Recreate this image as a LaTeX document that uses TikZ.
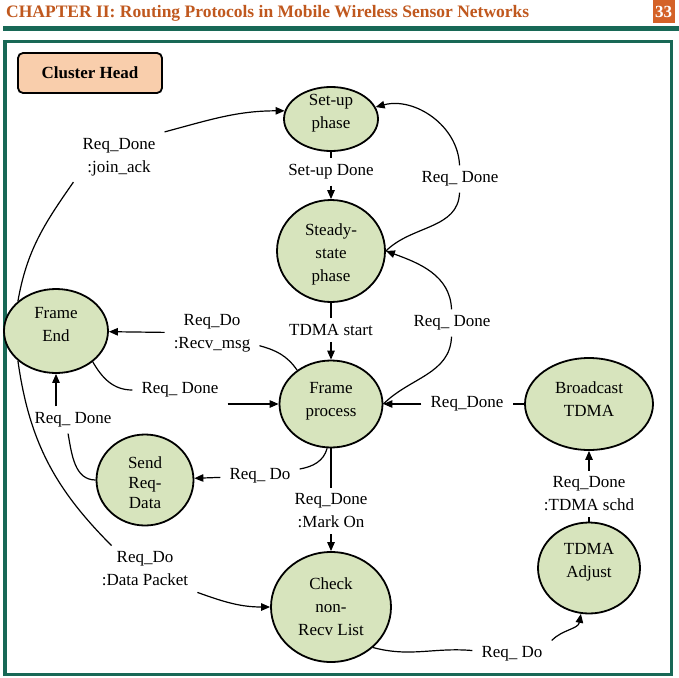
\documentclass[tikz,border=0pt]{standalone}
\usepackage{fontspec}
\setmainfont{Liberation Serif}
\usetikzlibrary{shapes.geometric,arrows.meta}
\definecolor{hdrc}{RGB}{192,88,30}
\definecolor{numbox}{RGB}{212,98,40}
\definecolor{frm}{RGB}{24,104,86}
\definecolor{nfill}{RGB}{215,228,189}
\definecolor{chfill}{RGB}{249,206,172}
\begin{document}
\begin{tikzpicture}[x=1pt,y=1pt,
  state/.style={ellipse,draw,line width=1.8pt,fill=nfill,inner sep=0pt},
  stxt/.style={align=center,font=\fontsize{17}{23}\selectfont,inner sep=0pt},
  lbl/.style={align=center,font=\fontsize{17}{23}\selectfont,inner xsep=9pt,inner ysep=6pt},
  conn/.style={line width=1.2pt},
  arr/.style={conn,-{Triangle[length=9pt,width=7.5pt]}}]

\useasboundingbox (0,0) rectangle (679,-677);
\fill[white] (0,0) rectangle (679,-677);

% header
\node[anchor=base west,inner sep=0pt,text=hdrc,font=\fontsize{17.5}{20}\selectfont\bfseries] (hdr) at (6,-18) {CHAPTER II: Routing Protocols in Mobile Wireless Sensor Networks};
\node[fill=numbox,text=white,font=\fontsize{17}{20}\selectfont\bfseries,minimum width=22pt,minimum height=23pt,inner sep=0pt] (pg) at (663.5,-11.5) {33};
\draw[frm,line width=4.5pt] (3,-28.5) -- (679,-28.5);
\draw[frm,line width=3.5pt] (5,-41.5) rectangle (671.5,-674.5);

% cluster head tag
\node[draw,line width=1.8pt,rounded corners=5pt,fill=chfill,minimum width=144pt,minimum height=40pt,font=\fontsize{17}{20}\selectfont\bfseries] (ch) at (90,-73) {Cluster Head};

% states
\node[state,minimum width=94pt,minimum height=64pt] (SU) at (331,-119) {};
\node[state,minimum width=108pt,minimum height=102pt] (SD) at (331,-251) {};
\node[state,minimum width=103pt,minimum height=87pt] (FP) at (331,-404) {};
\node[state,minimum width=104pt,minimum height=84pt] (FE) at (56,-331) {};
\node[state,minimum width=97pt,minimum height=91pt] (SRD) at (145,-480) {};
\node[state,minimum width=128pt,minimum height=92pt] (BT) at (589,-404) {};
\node[state,minimum width=102pt,minimum height=91pt] (TA) at (589,-568) {};
\node[state,minimum width=120pt,minimum height=110pt] (CK) at (331,-607) {};

% state texts
\node[stxt] (SUt) at (331,-113) {Set-up\\phase};
\node[stxt] (SDt) at (331,-254) {Steady-\\state\\phase};
\node[stxt] (FPt) at (331,-401) {Frame\\process};
\node[stxt] (FEt) at (56,-325) {Frame\\End};
\node[stxt,font=\fontsize{17}{20}\selectfont] (SRDt) at (145,-483) {Send\\Req-\\Data};
\node[stxt] (BTt) at (589,-399) {Broadcast\\TDMA};
\node[stxt] (TAt) at (589,-562) {TDMA\\Adjust};
\node[stxt] (CKt) at (331,-607) {Check\\non-\\Recv List};

% labels
\node[lbl] (l1) at (331,-172) {Set-up Done};
\node[lbl] (l2) at (331,-330) {TDMA start};
\node[lbl] (l3) at (331,-511) {Req\_Done\\:Mark On};
\node[lbl] (l4) at (460,-179) {Req\_ Done};
\node[lbl] (l5) at (452,-323) {Req\_ Done};
\node[lbl] (l6) at (467,-404) {Req\_Done};
\node[lbl] (l7) at (589,-494) {Req\_Done\\:TDMA schd};
\node[lbl] (l8) at (512,-654) {Req\_ Do};
\node[lbl] (l9) at (260,-476) {Req\_ Do};
\node[lbl] (l10) at (212,-333) {Req\_Do\\:Recv\_msg};
\node[lbl] (l11) at (180,-390) {Req\_ Done};
\node[lbl] (l12) at (73,-420) {Req\_ Done};
\node[lbl] (l13) at (119,-157) {Req\_Done\\:join\_ack};
\node[lbl] (l14) at (145,-569) {Req\_Do\\:Data Packet};

% connectors
\draw[conn] (SU) -- (l1);  \draw[arr] (l1) -- (SD);
\draw[conn] (SD) -- (l2);  \draw[arr] (l2) -- (FP);
\draw[conn] (FP) -- (l3);  \draw[arr] (l3) -- (CK);

\draw[conn] (SD.east) to[out=45,in=-92] (l4);
\draw[arr] (l4) to[out=92,in=15] (SU);

\draw[conn] (FP.east) to[out=45,in=-92] (l5);
\draw[arr] (l5) to[out=92,in=-20] (SD.east);

\draw[conn] (BT) -- (l6);  \draw[arr] (l6) -- (FP);
\draw[conn] (TA) -- (l7);  \draw[arr] (l7) -- (BT);

\draw[conn] (CK.-44) to[out=-15,in=175] (l8);
\draw[arr] (l8.north east) to[out=45,in=-100] (TA);

\draw[conn] (FP.-95) to[out=-105,in=10] (l9);
\draw[arr] (l9) -- (SRD);

\draw[conn] (FP.135) to[out=125,in=-15] (l10);
\draw[arr] (l10) -- (FE);

\draw[conn] (FE.-40) to[out=-60,in=180] (l11);
\draw[arr] (l11.east |- FP.west) -- (FP.west);

\draw[conn] (SRD.west) to[out=180,in=-80] (l12.-110);
\draw[arr] (l12.north -| FE.south) -- (FE.south);

\draw[conn] (FE.142) to[out=80,in=-125] (l13.south west);
\draw[arr] (l13.north east) to[out=15,in=180] (SU.170);

\draw[conn] (FE.218) to[out=-82,in=135] (l14.145);
\draw[arr] (l14.south east) to[out=-20,in=180] (CK.west);
\end{tikzpicture}
\end{document}
